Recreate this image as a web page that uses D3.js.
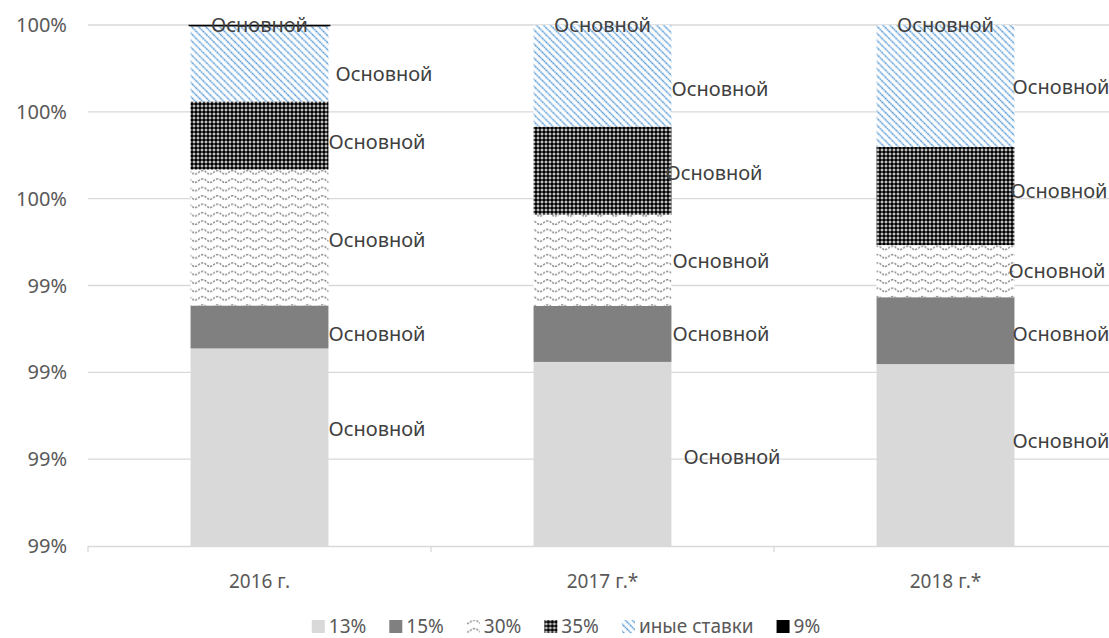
<!DOCTYPE html>
<html>
<head>
<meta charset="utf-8">
<script src="https://cdn.jsdelivr.net/npm/d3@7"></script>
<style>
  body { margin: 0; background: #fff; }
  svg { display: block; font-family: "Noto Sans", sans-serif; }
</style>
</head>
<body>
<div id="chart"></div>
<script>
// data (shares of revenue, %)
var years = ["2016 г.", "2017 г.*", "2018 г.*"];
var rate13 = [99.255, 99.224, 99.219];
var rate15 = [0.099, 0.129, 0.154];
var rate30 = [0.313, 0.210, 0.120];
var rate35 = [0.157, 0.203, 0.226];
var rateOther = [0.173, 0.235, 0.281];
var rate9 = [0.003, 0, 0];
var seriesNames = ["13%", "15%", "30%", "35%", "иные ставки", "9%"];
var yTicks = [98.8, 99.0, 99.2, 99.4, 99.6, 99.8, 100.0];
var labelText = "Основной";

// hand-moved data labels (dx, dy from default spot), per series per year
var labelNudge = {
  "13%": [[0, -18], [12, 3], [-2, -14]],
  "15%": [[0, 7], [1, 0], [-2, 3]],
  "30%": [[0, 2], [1, 1], [-6, 0]],
  "35%": [[0, 7], [-6, 2], [-4, -5]],
  "иные ставки": [[7, 10], [0, 13], [-2, 1]],
  "9%": [[0, 0], [0, 0], [0, 0]]
};

var W = 1109, H = 638;
var plotLeft = 88, plotRight = 1117, plotTop = 25, plotBottom = 546;

var rows = years.map(function (yr, i) {
  return {
    year: yr,
    "13%": rate13[i], "15%": rate15[i], "30%": rate30[i],
    "35%": rate35[i], "иные ставки": rateOther[i], "9%": rate9[i]
  };
});

var svg = d3.select("#chart").append("svg")
  .attr("width", W).attr("height", H);

// patterns
var defs = svg.append("defs");

var pWave = defs.append("pattern").attr("id", "pWave")
  .attr("patternUnits", "userSpaceOnUse").attr("width", 15).attr("height", 8.4);
pWave.append("rect").attr("width", 15).attr("height", 8.4).attr("fill", "#fff");
pWave.append("path").attr("d", "M0,6 C3.75,6 3.75,2.5 7.5,2.5 C11.25,2.5 11.25,6 15,6")
  .attr("fill", "none").attr("stroke", "#8c8c8c").attr("stroke-width", 1.5)
  .attr("stroke-dasharray", "2.2,1.3");

var pCheck = defs.append("pattern").attr("id", "pCheck")
  .attr("patternUnits", "userSpaceOnUse").attr("width", 4).attr("height", 4);
pCheck.append("rect").attr("width", 4).attr("height", 4).attr("fill", "#000");
pCheck.append("rect").attr("x", 0.5).attr("y", 1.5).attr("width", 3).attr("height", 1).attr("fill", "#fff");
pCheck.append("rect").attr("x", 1.5).attr("y", 0.5).attr("width", 1).attr("height", 3).attr("fill", "#fff");

var pStripe = defs.append("pattern").attr("id", "pStripe")
  .attr("patternUnits", "userSpaceOnUse").attr("width", 5).attr("height", 5)
  .attr("patternTransform", "rotate(-45)");
pStripe.append("rect").attr("width", 5).attr("height", 5).attr("fill", "#fff");
pStripe.append("line").attr("x1", 1.5).attr("y1", 0).attr("x2", 1.5).attr("y2", 5)
  .attr("stroke", "#5b9bd5").attr("stroke-width", 1.5)
  .attr("stroke-dasharray", "2,0.6");

var fills = {
  "13%": "#d9d9d9",
  "15%": "#808080",
  "30%": "url(#pWave)",
  "35%": "url(#pCheck)",
  "иные ставки": "url(#pStripe)",
  "9%": "#000"
};

// scales
var x = d3.scaleBand().domain(years).range([plotLeft, plotRight]).padding(0);
var barW = x.bandwidth() * 0.402;
var y = d3.scaleLinear().domain([98.8, 100]).range([plotBottom, plotTop]).clamp(true);

// gridlines + y labels
svg.append("g").selectAll("line").data(yTicks.slice(1)).enter().append("line")
  .attr("x1", plotLeft).attr("x2", W)
  .attr("y1", function (d) { return y(d); }).attr("y2", function (d) { return y(d); })
  .attr("stroke", "#d9d9d9").attr("stroke-width", 1.3);

svg.append("g").selectAll("text").data(yTicks).enter().append("text")
  .attr("x", 67).attr("y", function (d) { return y(d); })
  .attr("dy", "0.35em").attr("text-anchor", "end")
  .attr("fill", "#595959").style("font-size", "20px")
  .text(function (d) { return d3.format(".0f")(d) + "%"; });

// stacked bars
var stack = d3.stack().keys(seriesNames);
var series = stack(rows);

var gBars = svg.append("g");
series.forEach(function (s) {
  gBars.append("g").selectAll("rect").data(s).enter().append("rect")
    .attr("x", function (d) { return x(d.data.year) + (x.bandwidth() - barW) / 2; })
    .attr("width", barW)
    .attr("y", function (d) { return y(d[1]); })
    .attr("height", function (d) { return Math.max(0, y(d[0]) - y(d[1])); })
    .attr("fill", fills[s.key]);
});

// the tiny 9% sliver shows as a thin black line
svg.append("g").selectAll("line").data(series[5].filter(function (d) { return d[1] - d[0] > 0; }))
  .enter().append("line")
  .attr("x1", function (d) { return x(d.data.year) + (x.bandwidth() - barW) / 2 - 2; })
  .attr("x2", function (d) { return x(d.data.year) + (x.bandwidth() + barW) / 2 + 2; })
  .attr("y1", function (d) { return y(d[1]) + 0.5; })
  .attr("y2", function (d) { return y(d[1]) + 0.5; })
  .attr("stroke", "#000").attr("stroke-width", 1.6);

// x axis
svg.append("line").attr("x1", plotLeft).attr("x2", plotRight)
  .attr("y1", plotBottom + 0.5).attr("y2", plotBottom + 0.5)
  .attr("stroke", "#d9d9d9").attr("stroke-width", 1.3);
var tickXs = [plotLeft].concat(years.map(function (d) { return x(d) + x.bandwidth(); }));
svg.append("g").selectAll("line").data(tickXs).enter().append("line")
  .attr("x1", function (d) { return d; }).attr("x2", function (d) { return d; })
  .attr("y1", plotBottom).attr("y2", plotBottom + 6)
  .attr("stroke", "#d9d9d9").attr("stroke-width", 1.3);

svg.append("g").selectAll("text").data(years).enter().append("text")
  .attr("x", function (d) { return x(d) + x.bandwidth() / 2; })
  .attr("y", 581).attr("dy", "0.35em").attr("text-anchor", "middle")
  .attr("fill", "#595959").style("font-size", "19px")
  .text(function (d) { return d; });

// data labels
var gLab = svg.append("g");
series.forEach(function (s) {
  gLab.append("g").selectAll("text").data(s).enter().append("text")
    .attr("x", function (d, i) {
      var nx = labelNudge[s.key][i][0];
      if (s.key === "9%") return x(d.data.year) + x.bandwidth() / 2 + nx;
      return x(d.data.year) + (x.bandwidth() + barW) / 2 + nx;
    })
    .attr("y", function (d, i) {
      var ny = labelNudge[s.key][i][1];
      if (s.key === "9%") return y(d[1]) + ny;
      return (y(d[0]) + y(d[1])) / 2 + ny;
    })
    .attr("dy", "0.35em")
    .attr("text-anchor", s.key === "9%" ? "middle" : "start")
    .attr("fill", "#404040").style("font-size", "20px")
    .text(labelText);
});

// legend
var legend = svg.append("g");
var lx = 0;
seriesNames.forEach(function (name) {
  var g = legend.append("g").attr("transform", "translate(" + lx + ",0)");
  g.append("rect").attr("x", 0).attr("y", -6).attr("width", 13).attr("height", 13)
    .attr("fill", fills[name]);
  var t = g.append("text").attr("x", 17).attr("y", 0).attr("dy", "0.35em")
    .attr("fill", "#595959").style("font-size", "19px").text(name);
  lx += 17 + t.node().getComputedTextLength() + 23;
});
var legW = lx - 23;
legend.attr("transform", "translate(" + (566 - legW / 2) + ",626)");
</script>
</body>
</html>
